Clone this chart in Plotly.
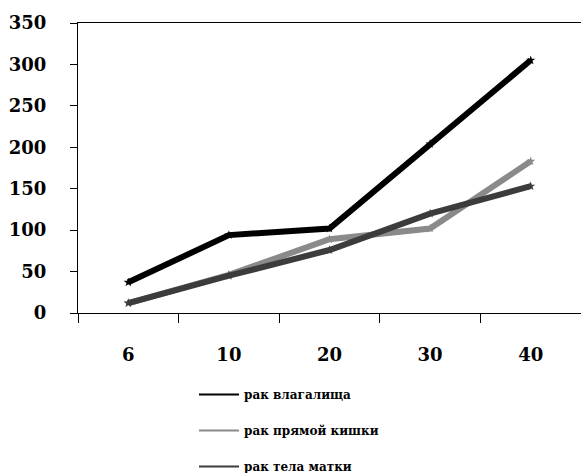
import plotly.graph_objects as go

categories = ["6", "10", "20", "30", "40"]
series_names = ["рак влагалища", "рак прямой кишки", "рак тела матки"]
vagina = [37, 94, 102, 204, 305]
rectum = [12, 46, 89, 102, 183]
uterus = [12, 45, 76, 120, 153]
y_ticks = [0, 50, 100, 150, 200, 250, 300, 350]

colors = ["#000000", "#8a8a8a", "#3c3c3c"]
values = [vagina, rectum, uterus]

FONT = "DejaVu Serif"

fig = go.Figure()
for name, vals, col in zip(series_names, values, colors):
    fig.add_trace(go.Scatter(
        x=categories, y=vals, mode="lines+markers", name=name,
        line=dict(color=col, width=6), marker=dict(symbol="star", size=7, color=col),
        showlegend=False, cliponaxis=False,
    ))
for i, (name, col) in enumerate(zip(series_names, colors)):
    fig.add_trace(go.Scatter(
        x=[None], y=[None], mode="lines", name=name,
        line=dict(color=col, width=2), legendgroup=f"g{i}", showlegend=True,
    ))

fig.update_layout(
    width=581, height=473,
    margin=dict(l=78, r=0, t=23, b=160, autoexpand=False),
    paper_bgcolor="white", plot_bgcolor="white",
    font=dict(family=FONT, color="black"),
    xaxis=dict(
        type="category", range=[-0.5, 4.5], tickson="boundaries",
        showline=True, linecolor="black", linewidth=1, mirror=True,
        ticks="outside", ticklen=9, tickcolor="black", tickwidth=1,
        showgrid=False, zeroline=False, ticklabelstandoff=25, tickangle=0,
        automargin=False,
        tickfont=dict(family=FONT, size=18, color="black", weight="bold"),
    ),
    yaxis=dict(
        range=[0, 350], tickvals=y_ticks,
        showline=True, linecolor="black", linewidth=1,
        ticks="outside", ticklen=7, tickcolor="black", tickwidth=1,
        showgrid=False, zeroline=False, ticklabelstandoff=20, automargin=False,
        tickfont=dict(family=FONT, size=18, color="black", weight="bold"),
    ),
    legend=dict(
        xref="container", yref="container", x=194 / 581, y=1 - 380 / 473,
        xanchor="left", yanchor="top", orientation="v",
        font=dict(family=FONT, size=12, color="black", weight="bold"),
        tracegroupgap=17, itemwidth=40, bgcolor="rgba(0,0,0,0)",
    ),
)

fig.write_html("out.html")
